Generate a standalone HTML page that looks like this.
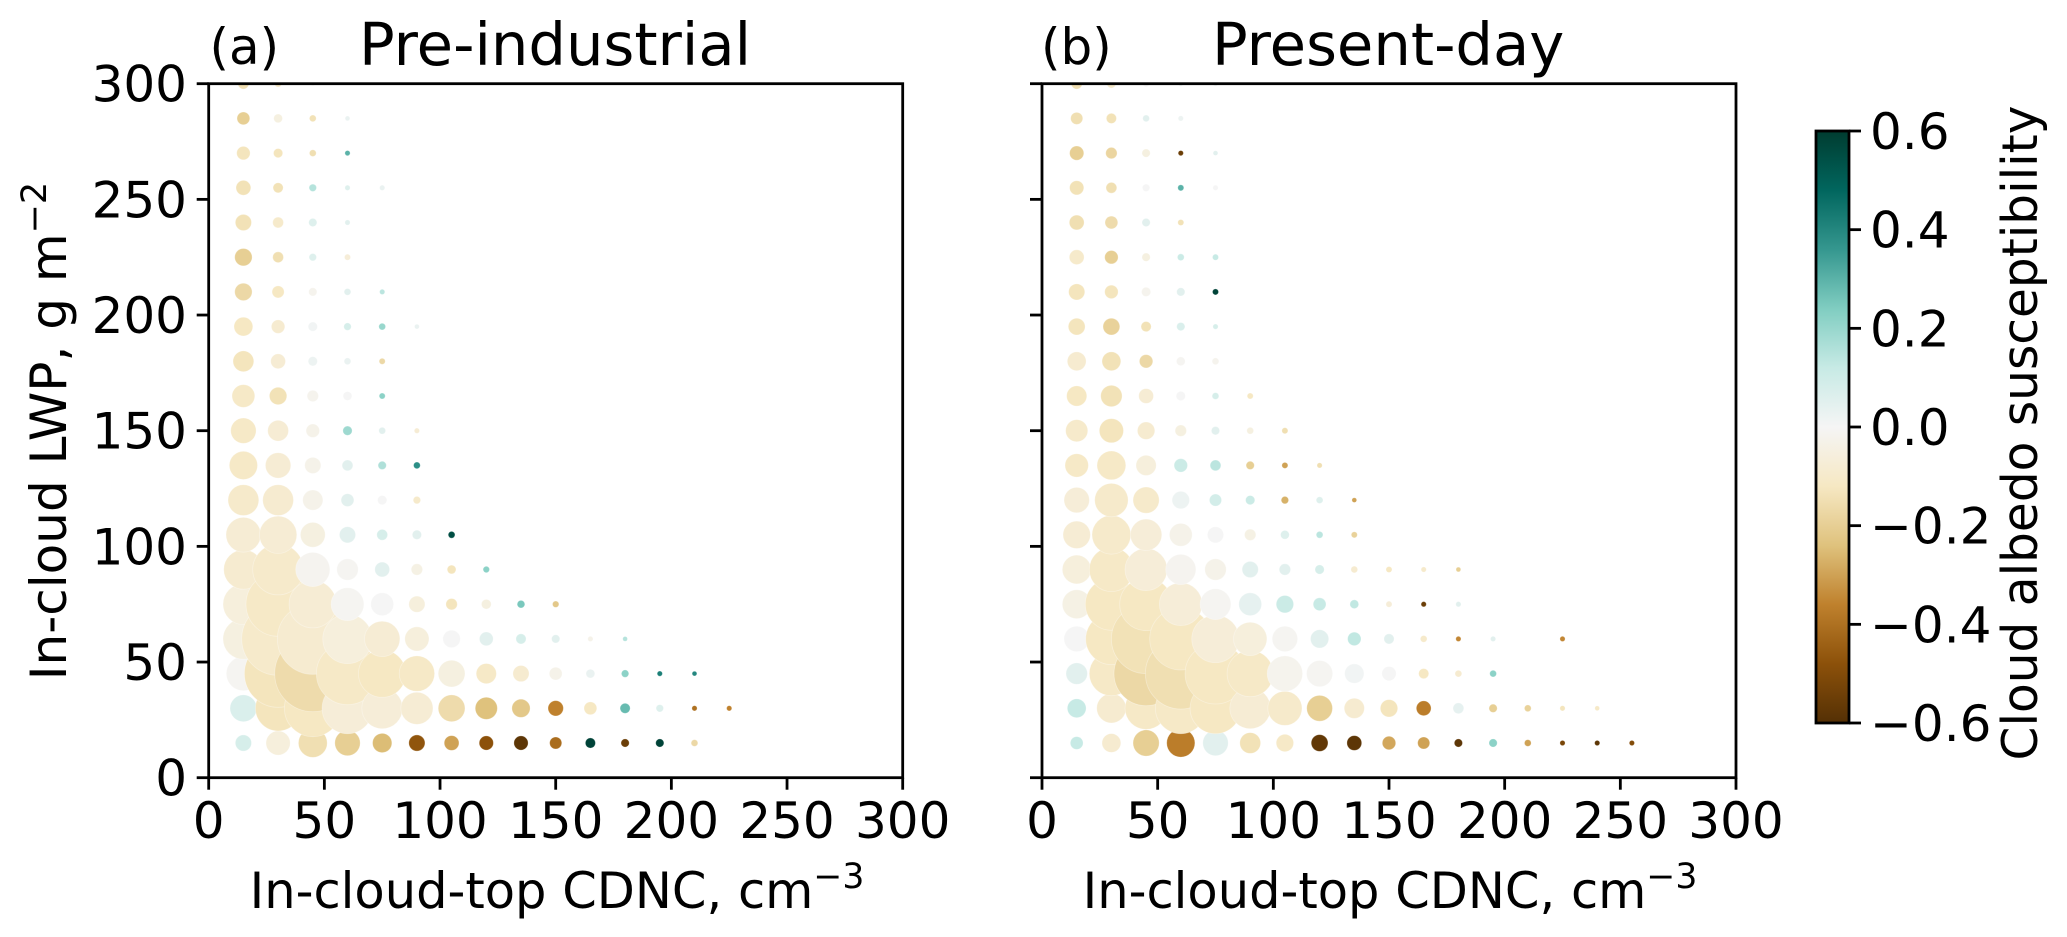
<!DOCTYPE html>
<html>
<head>
<meta charset="utf-8">
<title>Cloud albedo susceptibility</title>
<style>
html,body{margin:0;padding:0;background:#fff;width:2067px;height:937px;overflow:hidden}
svg{display:block}
text{font-family:"DejaVu Sans","Liberation Sans",sans-serif;fill:#000}
</style>
</head>
<body>
<svg id="fig" xmlns="http://www.w3.org/2000/svg" width="2067" height="937" viewBox="0 0 2067 937">
  <defs>
    <clipPath id="clip-a"><rect x="208.7" y="83.7" width="694" height="694"/></clipPath>
    <clipPath id="clip-b"><rect x="1042" y="83.7" width="694" height="694"/></clipPath>
    <linearGradient id="brbg" x1="0" y1="1" x2="0" y2="0">
      <stop offset="0" stop-color="#543005"/><stop offset="0.1" stop-color="#8c510a"/>
      <stop offset="0.2" stop-color="#bf812d"/><stop offset="0.3" stop-color="#dfc27d"/>
      <stop offset="0.4" stop-color="#f6e8c3"/><stop offset="0.5" stop-color="#f5f5f5"/>
      <stop offset="0.6" stop-color="#c7eae5"/><stop offset="0.7" stop-color="#80cdc1"/>
      <stop offset="0.8" stop-color="#35978f"/><stop offset="0.9" stop-color="#01665e"/>
      <stop offset="1" stop-color="#003c30"/>
    </linearGradient>
  </defs>

  <g id="panel-a">
    <g id="dots-a" clip-path="url(#clip-a)"></g>
    <rect x="208.7" y="83.7" width="694" height="694" fill="none" stroke="#000" stroke-width="2.8"/>
    <g id="ticks-a"></g>
    <text x="209.5" y="64" font-size="50">(a)</text>
    <text x="359" y="65" font-size="59.2">Pre-industrial</text>
    <text x="557" y="908" font-size="49.5" text-anchor="middle">In-cloud-top CDNC, cm<tspan font-size="34.6" dy="-20">−3</tspan></text>
    <text transform="translate(66,431) rotate(-90)" font-size="50" text-anchor="middle">In-cloud LWP, g m<tspan font-size="35" dy="-20">−2</tspan></text>
  </g>

  <g id="panel-b">
    <g id="dots-b" clip-path="url(#clip-b)"></g>
    <rect x="1042" y="83.7" width="694" height="694" fill="none" stroke="#000" stroke-width="2.8"/>
    <g id="ticks-b"></g>
    <text x="1041" y="64" font-size="50">(b)</text>
    <text x="1212" y="65" font-size="59.2">Present-day</text>
    <text x="1390" y="908" font-size="49.5" text-anchor="middle">In-cloud-top CDNC, cm<tspan font-size="34.6" dy="-20">−3</tspan></text>
  </g>

  <g id="colorbar">
    <rect x="1816" y="131" width="33" height="592" fill="url(#brbg)" stroke="#000" stroke-width="2.8"/>
    <g id="ticks-c"></g>
    <text transform="translate(2037,433) rotate(-90)" font-size="48.6" text-anchor="middle">Cloud albedo susceptibility</text>
  </g>
</svg>

<script>
// Bin centres (rows and columns of the joint histogram)
const cdncStep = 15;
const lwpStep = 15;

// Tick labels
const xTickValues = [0, 50, 100, 150, 200, 250, 300];
const yTickValues = [0, 50, 100, 150, 200, 250, 300];
const colorbarTickValues = [-0.6, -0.4, -0.2, 0, 0.2, 0.4, 0.6];

// Occurrence per bin; first row is LWP=15, first entry is CDNC=15. 0 = empty bin.
const occurrenceA = [
  [59,137,196,151,86,59,49,45,45,32,22,14,14,9],
  [169,497,784,625,400,246,169,114,76,53,36,22,11,5,5],
  [279,1109,1421,942,543,299,169,94,59,36,16,11,5,4],
  [400,1296,1225,590,299,137,69,42,22,14,5,4],
  [400,1005,543,256,121,59,28,20,12,8],
  [372,625,279,106,49,28,16,8],
  [289,335,144,59,25,18,9],
  [225,225,94,36,18,11],
  [188,151,59,25,14,9],
  [151,100,40,18,9,5],
  [121,69,28,16,7],
  [100,49,18,9,7],
  [81,40,18,11,9,4],
  [69,32,14,9,5],
  [69,25,11,7],
  [59,25,14,5],
  [49,22,11,5,5],
  [40,18,9,5],
  [36,16,9,4],
  [25,9,2]
];

// Cloud albedo susceptibility per bin, pre-industrial
const susceptibilityA = [
  [.08,-.06,-.15,-.2,-.25,-.47,-.3,-.48,-.58,-.41,.58,-.55,.58,-.17],
  [.07,-.13,-.12,-.07,-.07,-.08,-.16,-.24,-.22,-.36,-.12,.28,.06,-.4,-.36],
  [-.01,-.13,-.16,-.11,-.12,-.11,-.05,-.11,-.09,-.03,.03,.22,.42,.4],
  [-.05,-.1,-.09,-.06,-.08,-.06,0,.05,.08,.05,-.03,.15],
  [-.06,-.11,-.08,-.01,0,-.06,-.13,-.05,.25,-.22],
  [-.09,-.1,-.015,-.01,.05,-.04,-.13,.22],
  [-.08,-.08,-.05,.05,.08,.05,.55],
  [-.1,-.09,-.03,.05,0,-.1],
  [-.11,-.08,-.03,.05,.16,.38],
  [-.11,-.08,-.03,.19,.05,-.08],
  [-.11,-.14,-.02,0,.22],
  [-.13,-.08,.02,.03,-.17],
  [-.12,-.09,.01,.08,.2,.03],
  [-.17,-.12,-.02,.05,.14],
  [-.2,-.15,.06,-.07],
  [-.14,-.1,.06,.05],
  [-.14,-.14,.15,.06,.03],
  [-.13,-.13,-.15,.3],
  [-.2,-.05,-.14,.03],
  [-.15,-.12,-.02]
];

// Occurrence per bin, present-day
const occurrenceB = [
  [36,81,161,188,151,100,69,64,49,40,32,14,14,9,5,5,5],
  [81,204,428,625,625,400,279,156,94,69,49,25,14,9,5,4],
  [106,471,1005,1225,900,515,299,161,86,45,22,9,9],
  [151,640,1176,942,543,266,151,76,40,22,9,5,5,0,5],
  [196,660,676,441,225,121,69,36,16,7,5,5],
  [196,471,428,216,106,59,28,18,9,7,5,4],
  [177,361,234,121,59,28,16,9,7],
  [151,266,161,69,32,18,11,9,4],
  [128,196,94,40,25,14,7,5],
  [114,137,69,28,14,9,7],
  [94,106,49,18,9,7],
  [81,81,40,16,9],
  [64,64,22,14,5],
  [59,40,18,14,7],
  [49,40,14,9,7],
  [49,36,14,7],
  [45,25,11,7,5],
  [45,28,14,5,4],
  [32,22,9,5],
  [25,16,7,4,4]
];

// Cloud albedo susceptibility per bin, present-day
const susceptibilityB = [
  [.12,-.09,-.2,-.37,.05,-.14,-.11,-.57,-.58,-.29,-.3,-.58,.22,-.3,-.52,-.58,-.5],
  [.12,-.09,-.11,-.11,-.12,-.08,-.1,-.2,-.09,-.13,-.37,.04,-.2,-.19,-.13,-.11],
  [.05,-.11,-.17,-.15,-.12,-.11,-.02,-.01,.01,0,-.12,-.09,.22],
  [0,-.12,-.14,-.12,-.07,-.06,-.01,.05,.13,.05,-.1,-.35,.05,0,-.35],
  [-.04,-.12,-.12,-.07,-.01,.04,.11,.12,.13,-.07,-.55,.05],
  [-.06,-.11,-.07,-.015,-.03,.05,.05,.08,-.09,-.12,-.1,-.2],
  [-.08,-.1,-.07,-.03,0,-.04,.06,.14,-.19],
  [-.07,-.1,-.1,.02,.09,.11,-.27,.06,-.3],
  [-.11,-.11,-.06,.11,.14,-.2,-.3,-.15],
  [-.1,-.13,-.09,-.05,.05,-.05,-.15],
  [-.12,-.14,-.08,0,.08,-.12],
  [-.09,-.14,-.17,-.01,-.02],
  [-.13,-.19,-.14,.07,.08],
  [-.13,-.13,-.02,.05,.58],
  [-.1,-.2,-.05,.11,.12],
  [-.15,-.16,.05,-.14],
  [-.14,-.15,0,.3,0],
  [-.2,-.18,-.05,-.55,.05],
  [-.15,-.14,.05,.02],
  [-.15,-.1,0,.02,.02]
];

// Diverging BrBG colour map anchors
const brbgAnchors = ['#543005','#8c510a','#bf812d','#dfc27d','#f6e8c3','#f5f5f5','#c7eae5','#80cdc1','#35978f','#01665e','#003c30'];

const SVGNS = 'http://www.w3.org/2000/svg';
const PX_PER_UNIT = 694 / 300;
const AXES_TOP = 83.7, AXES_BOTTOM = 777.7;
const CB_TOP = 131, CB_BOTTOM = 723, CB_RIGHT = 1849;
const TICK_LEN = 12, TICK_W = 2.8;
const TICK_FONT = 50;

function xScale(left, v) { return left + v * PX_PER_UNIT; }
function yScale(v) { return AXES_BOTTOM - v * PX_PER_UNIT; }
function rScale(occ) { return Math.sqrt(occ) + 0.4; }
function cbScale(v) { return CB_BOTTOM - (v + 0.6) / 1.2 * (CB_BOTTOM - CB_TOP); }

function hex(c) { return [1,3,5].map(function (i) { return parseInt(c.substr(i,2),16); }); }
function colorOf(v) {
  const t = Math.max(0, Math.min(1, (v + 0.6) / 1.2)) * 10;
  const i = Math.min(9, Math.floor(t));
  const f = t - i;
  const a = hex(brbgAnchors[i]), b = hex(brbgAnchors[i+1]);
  return 'rgb(' + a.map(function (x, k) { return Math.round(x + (b[k]-x)*f); }).join(',') + ')';
}

function drawDots(groupId, left, occ, sus, label) {
  const g = document.getElementById(groupId);
  let maxCols = 0;
  occ.forEach(function (r) { maxCols = Math.max(maxCols, r.length); });
  for (let c = 0; c < maxCols; c++) {
    for (let r = 0; r < occ.length; r++) {
      const o = occ[r][c];
      if (!o) continue;
      const cdnc = (c + 1) * cdncStep;
      const lwp = (r + 1) * lwpStep;
      const el = document.createElementNS(SVGNS, 'circle');
      el.setAttribute('cx', xScale(left, cdnc).toFixed(2));
      el.setAttribute('cy', yScale(lwp).toFixed(2));
      el.setAttribute('r', rScale(o).toFixed(2));
      el.setAttribute('fill', colorOf(sus[r][c]));
      el.setAttribute('stroke', '#fff');
      el.setAttribute('stroke-opacity', '0.35');
      el.setAttribute('stroke-width', '0.8');
      
      
      g.appendChild(el);
    }
  }
}

function addLine(g, x1, y1, x2, y2) {
  const l = document.createElementNS(SVGNS, 'line');
  l.setAttribute('x1', x1); l.setAttribute('y1', y1);
  l.setAttribute('x2', x2); l.setAttribute('y2', y2);
  l.setAttribute('stroke', '#000');
  l.setAttribute('stroke-width', TICK_W);
  
  
  g.appendChild(l);
}
function addText(g, x, y, str, anchor) {
  const t = document.createElementNS(SVGNS, 'text');
  t.setAttribute('x', x); t.setAttribute('y', y);
  t.setAttribute('font-size', TICK_FONT);
  t.setAttribute('text-anchor', anchor);
  
  
  t.textContent = str;
  g.appendChild(t);
}

function drawAxes(groupId, left, showY) {
  const g = document.getElementById(groupId);
  xTickValues.forEach(function (v) {
    const x = xScale(left, v);
    addLine(g, x, AXES_BOTTOM, x, AXES_BOTTOM + TICK_LEN);
    addText(g, x, 838, String(v), 'middle');
  });
  yTickValues.forEach(function (v) {
    const y = yScale(v);
    addLine(g, left, y, left - TICK_LEN, y);
    if (showY) addText(g, 187, y + 18, String(v), 'end');
  });
}

function drawColorbarTicks() {
  const g = document.getElementById('ticks-c');
  colorbarTickValues.forEach(function (v) {
    const y = cbScale(v);
    addLine(g, CB_RIGHT, y, CB_RIGHT + TICK_LEN, y);
    const s = (v < 0 ? '−' : '') + Math.abs(v).toFixed(1);
    addText(g, CB_RIGHT + 21, y + 18, s, 'start');
  });
}

drawDots('dots-a', 208.7, occurrenceA, susceptibilityA, 'pre-industrial');
drawDots('dots-b', 1042, occurrenceB, susceptibilityB, 'present-day');
drawAxes('ticks-a', 208.7, true);
drawAxes('ticks-b', 1042, false);
drawColorbarTicks();
</script>
</body>
</html>
